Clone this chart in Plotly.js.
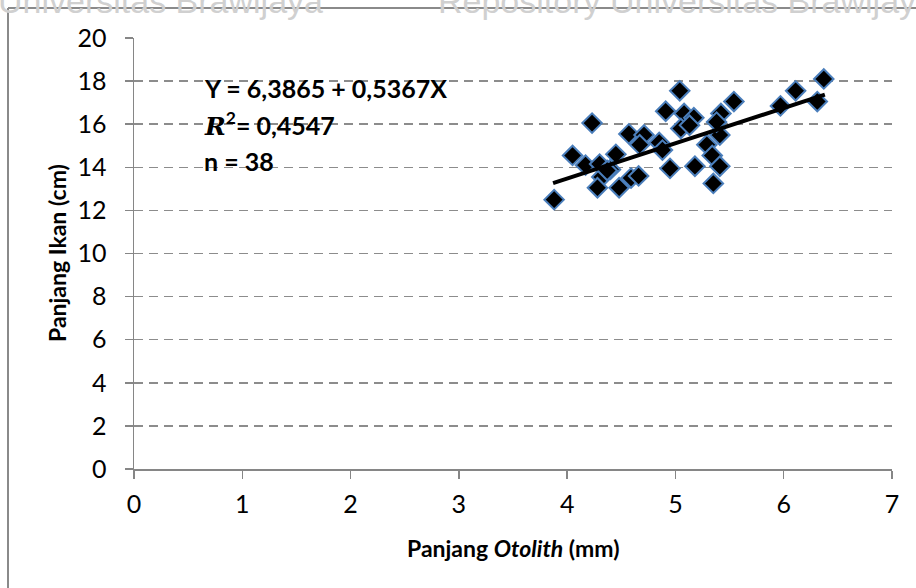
<!DOCTYPE html>
<html>
<head>
<meta charset="utf-8">
<script src="https://cdn.plot.ly/plotly-3.0.1.min.js"></script>
<style>html,body{margin:0;padding:0;background:#fff;}#chart{width:916px;height:588px;}</style>
</head>
<body>
<div id="chart"></div>
<script>
// Panjang Otolith (mm)
const otolithLength = [3.88,4.05,4.23,4.17,4.30,4.32,4.28,4.40,4.45,4.48,4.57,4.59,4.66,4.71,4.67,4.85,4.88,4.95,4.91,5.04,5.08,5.05,5.17,5.18,5.29,5.34,5.35,5.41,5.41,5.42,5.38,5.54,5.97,6.11,6.31,6.37,5.13,4.37];
// Panjang Ikan (cm)
const fishLength = [12.5,14.55,16.05,14.1,14.15,13.55,13.05,13.9,14.6,13.05,15.55,13.5,13.6,15.5,15.05,15.15,14.8,13.95,16.6,17.55,16.5,15.8,16.3,14.05,15.05,14.55,13.25,14.05,15.5,16.5,16.1,17.05,16.85,17.55,17.05,18.1,15.95,13.85];
// Trendline as drawn
const trendX = [3.87, 6.38];
const trendY = [13.27, 17.37];
const xTicks = [0,1,2,3,4,5,6,7];
const yTicks = [0,2,4,6,8,10,12,14,16,18,20];

const W = 916, H = 588;
const L = 134, R = 24, T = 38, B = 119;
const pw = W - L - R, ph = H - T - B;
const px = v => (v - L) / pw;
const py = v => (H - B - v) / ph;

const axisGrey = '#868686';
const fam = 'Lato, Carlito, Calibri, sans-serif';
const tickFont = {family: fam, size: 25, color: '#000'};

const traces = [
  {
    x: otolithLength, y: fishLength, type: 'scatter', mode: 'markers',
    marker: {symbol: 'diamond', size: 15, color: '#000', line: {color: '#4a7ebb', width: 2}},
    cliponaxis: false, hoverinfo: 'skip'
  },
  {
    x: trendX, y: trendY, type: 'scatter', mode: 'lines',
    line: {color: '#000', width: 4}, hoverinfo: 'skip'
  }
];

const bold = {family: fam, size: 25, color: '#000'};

const layout = {
  width: W, height: H,
  margin: {l: L, r: R, t: T, b: B, pad: 0},
  paper_bgcolor: '#fff', plot_bgcolor: '#fff',
  showlegend: false,
  xaxis: {
    range: [0, 7], tickvals: xTicks, ticktext: xTicks.map(String),
    showgrid: false, zeroline: false,
    showline: true, linecolor: axisGrey, linewidth: 1.5,
    ticks: 'outside', ticklen: 8, tickwidth: 1.5, tickcolor: axisGrey,
    tickfont: tickFont, ticklabelstandoff: 4, fixedrange: true
  },
  yaxis: {
    range: [0, 20], tickvals: yTicks, ticktext: yTicks.map(String),
    showgrid: true, gridcolor: '#8c8c8c', gridwidth: 1.5, griddash: '9px,6px',
    zeroline: false,
    showline: true, linecolor: axisGrey, linewidth: 1.5,
    ticks: 'outside', ticklen: 8, tickwidth: 1.5, tickcolor: axisGrey,
    tickfont: tickFont, ticklabelstandoff: 13, fixedrange: true
  },
  shapes: [
    {type: 'line', xref: 'paper', yref: 'paper', x0: px(8), x1: px(8), y0: py(8), y1: py(600),
     line: {color: '#8a8a8a', width: 2}},
    {type: 'line', xref: 'paper', yref: 'paper', x0: px(8), x1: px(930), y0: py(8), y1: py(8),
     line: {color: '#8a8a8a', width: 2}}
  ],
  annotations: [
    {xref: 'paper', yref: 'paper', x: px(-4), y: py(1), xanchor: 'left', yanchor: 'middle',
     text: 'Universitas Brawijaya', showarrow: false,
     font: {family: 'Liberation Sans, Arial, sans-serif', size: 34, color: '#d0d0d0'}},
    {xref: 'paper', yref: 'paper', x: px(436), y: py(1), xanchor: 'left', yanchor: 'middle',
     text: 'Repository Universitas Brawijaya', showarrow: false,
     font: {family: 'Liberation Sans, Arial, sans-serif', size: 34, color: '#d0d0d0'}},
    {xref: 'paper', yref: 'paper', x: px(202), y: py(88), xanchor: 'left', yanchor: 'middle',
     text: '<b>Y = 6,3865 + 0,5367X</b>', showarrow: false, font: bold},
    {xref: 'paper', yref: 'paper', x: px(202), y: py(124), xanchor: 'left', yanchor: 'middle',
     text: '<b><i style="font-family:\'DejaVu Serif\',serif">R</i><sup>2</sup>= 0,4547</b>', showarrow: false, font: bold},
    {xref: 'paper', yref: 'paper', x: px(202), y: py(161), xanchor: 'left', yanchor: 'middle',
     text: '<b>n = 38</b>', showarrow: false, font: bold},
    {xref: 'paper', yref: 'paper', x: px(513), y: py(548), xanchor: 'center', yanchor: 'middle',
     text: '<b>Panjang <i>Otolith</i> (mm)</b>', showarrow: false,
     font: {family: fam, size: 23, color: '#000'}},
    {xref: 'paper', yref: 'paper', x: px(57), y: py(253), xanchor: 'center', yanchor: 'middle',
     text: '<b>Panjang Ikan (cm)</b>', showarrow: false, textangle: -90,
     font: {family: fam, size: 23, color: '#000'}}
  ]
};

Plotly.newPlot('chart', traces, layout, {staticPlot: true, displayModeBar: false});
</script>
</body>
</html>
